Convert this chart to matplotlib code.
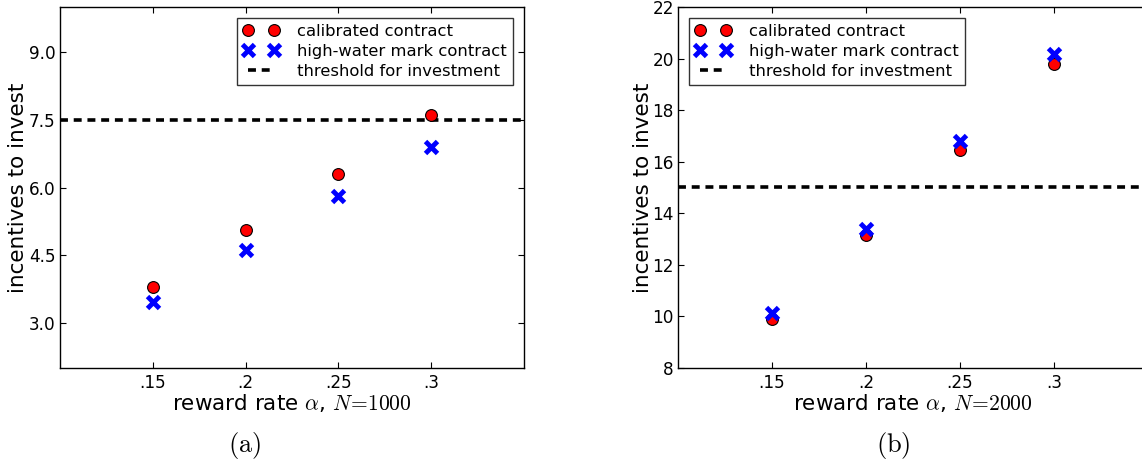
import matplotlib
matplotlib.use("Agg")
import matplotlib.pyplot as plt

plt.rcParams['font.family'] = ['DejaVu Sans']
plt.rcParams['mathtext.fontset'] = 'cm'

x_vals = [0.15, 0.20, 0.25, 0.30]
x_ticklabels = ['.15', '.2', '.25', '.3']

calibrated_a = [3.79, 5.05, 6.31, 7.61]
hwm_a = [3.46, 4.62, 5.81, 6.90]
threshold_a = 7.5
yticks_a = [3.0, 4.5, 6.0, 7.5, 9.0]

calibrated_b = [9.89, 13.16, 16.46, 19.78]
hwm_b = [10.12, 13.38, 16.81, 20.18]
threshold_b = 15
yticks_b = [8, 10, 12, 14, 16, 18, 20, 22]

fig = plt.figure(figsize=(11.42, 4.61), dpi=100)
W, H = 1142, 461

def px_axes(l, r, t, b):
    return fig.add_axes([l / W, (H - b) / H, (r - l) / W, (b - t) / H])

ax1 = px_axes(60, 524, 7, 368)
ax2 = px_axes(678, 1148, 7, 368)

panels = [
    (ax1, calibrated_a, hwm_a, threshold_a, yticks_a, (2, 10), ['%.1f' % v for v in yticks_a], '1000', 'upper right', 18, 60),
    (ax2, calibrated_b, hwm_b, threshold_b, yticks_b, (8, 22), [str(v) for v in yticks_b], '2000', 'upper left', 643, 678),
]

for ax, cal, hwm, thr, yt, ylim, ytl, N, loc, ylab_x, ax_left in panels:
    ax.plot(x_vals, cal, linestyle='none', marker='o', markersize=8.5,
            markerfacecolor='red', markeredgecolor='black', markeredgewidth=0.8,
            label='calibrated contract', zorder=3)
    ax.plot(x_vals, hwm, linestyle='none', marker='x', markersize=8,
            color='blue', markeredgewidth=3.5, label='high-water mark contract', zorder=4)
    ax.axhline(thr, color='black', linestyle=(0, (2.2, 1.6)), linewidth=2.6,
               label='threshold for investment', zorder=2)
    ax.set_xlim(0.10, 0.35)
    ax.set_ylim(*ylim)
    ax.set_xticks(x_vals)
    ax.set_xticklabels(x_ticklabels)
    ax.set_yticks(yt)
    ax.set_yticklabels(ytl)
    ax.tick_params(direction='in', length=4, width=0.8, top=True, right=True,
                   labelsize=12.2)
    ax.tick_params(axis='y', pad=3)
    ax.tick_params(axis='x', pad=4)
    for s in ax.spines.values():
        s.set_linewidth(1.0)
    ax.set_xlabel(r'reward rate $\alpha$, $N\!=\!%s$' % N, fontsize=15.5)
    ax.xaxis.set_label_coords(0.5, -(392 - 368) / 361)
    ax.set_ylabel('incentives to invest', fontsize=15.5, va='center')
    bb = ax.get_position()
    ax.yaxis.set_label_coords((ylab_x - ax_left) / (bb.width * W), 0.5)
    leg = ax.legend(loc=loc, numpoints=2, fontsize=11.8, fancybox=False,
                    framealpha=1, edgecolor='#333333', borderaxespad=0.7,
                    handlelength=2.2, handletextpad=1.1, labelspacing=0.3,
                    borderpad=0.35)
    leg.get_frame().set_linewidth(1.0)

fig.text(245 / W, 1 - 445 / H, r'$(\mathrm{a})$', ha='center', va='center', fontsize=19)
fig.text(893 / W, 1 - 445 / H, r'$(\mathrm{b})$', ha='center', va='center', fontsize=19)

fig.savefig('out.png', dpi=100)
